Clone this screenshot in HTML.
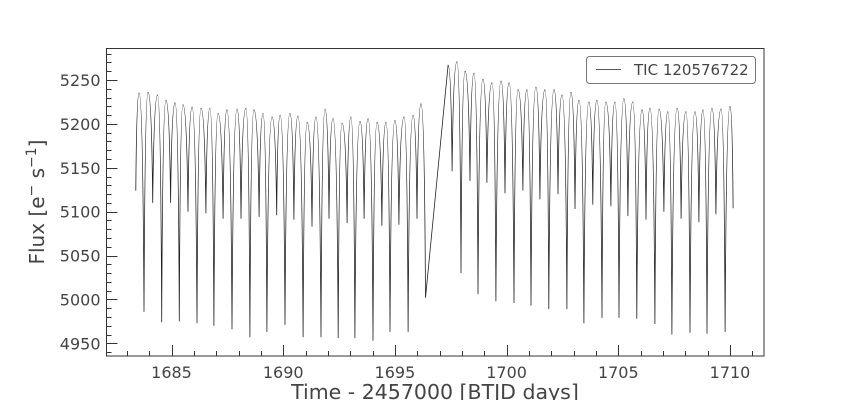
<!DOCTYPE html>
<html><head><meta charset="utf-8"><style>
body{margin:0;background:#fff;}
svg{display:block;font-family:"DejaVu Sans","Liberation Sans",sans-serif;}
</style></head><body>
<svg id="chart" width="848" height="400">
<rect x="0" y="0" width="848" height="400" fill="#fff"/>
<g id="ticks"></g>
<path id="curve" fill="none" stroke="#222" stroke-width="0.8"/>
<rect x="106.5" y="48.5" width="657.5" height="307.5" fill="none" stroke="#333" stroke-width="1"/>
<g>
<rect x="586.5" y="56.5" width="169" height="27" rx="3" fill="#fff" stroke="#777"/>
<line x1="596" y1="69.5" x2="621" y2="69.5" stroke="#222" stroke-width="0.8"/>
<text x="634" y="75" font-size="15" fill="#444">TIC 120576722</text>
</g>
<text transform="translate(44,202) rotate(-90)" text-anchor="middle" font-size="20" fill="#444">Flux [e<tspan font-size="14" dy="-8">−</tspan><tspan dy="8"> s</tspan><tspan font-size="14" dy="-8">−1</tspan><tspan dy="8">]</tspan></text>
<text x="435" y="399" text-anchor="middle" font-size="20.5" fill="#444">Time - 2457000 [BTJD days]</text>
</svg>
<script>
const times=[1683.40,1683.55,1683.77,1683.95,1684.16,1684.38,1684.56,1684.75,1684.96,1685.16,1685.35,1685.51,1685.74,1685.92,1686.14,1686.32,1686.54,1686.72,1686.90,1687.08,1687.31,1687.48,1687.71,1687.93,1688.11,1688.33,1688.51,1688.69,1688.92,1689.10,1689.27,1689.50,1689.71,1689.86,1690.08,1690.30,1690.48,1690.66,1690.89,1691.07,1691.29,1691.47,1691.69,1691.87,1692.05,1692.23,1692.46,1692.63,1692.86,1693.03,1693.21,1693.44,1693.62,1693.80,1694.02,1694.20,1694.42,1694.60,1694.78,1695.00,1695.18,1695.41,1695.59,1695.81,1695.99,1696.17,1696.37,1697.38,1697.56,1697.78,1697.96,1698.14,1698.36,1698.54,1698.72,1698.94,1699.12,1699.35,1699.52,1699.75,1699.93,1700.11,1700.33,1700.51,1700.73,1700.91,1701.09,1701.31,1701.49,1701.72,1701.89,1702.12,1702.30,1702.48,1702.70,1702.88,1703.06,1703.24,1703.46,1703.68,1703.86,1704.04,1704.27,1704.44,1704.67,1704.85,1705.03,1705.25,1705.43,1705.65,1705.83,1706.06,1706.24,1706.42,1706.64,1706.82,1707.04,1707.22,1707.40,1707.63,1707.81,1708.03,1708.21,1708.43,1708.61,1708.79,1708.97,1709.19,1709.37,1709.60,1709.78,1710.00,1710.14];
const flux=[5124,5235,4986,5236,5110,5233,4974,5227,5110,5224,4975,5222,5100,5219,4973,5218,5098,5218,4970,5212,5092,5216,4966,5217,5092,5218,4957,5216,5094,5212,4963,5208,5096,5210,4971,5212,5091,5209,4957,5202,5083,5208,4957,5217,5092,5206,4956,5201,5087,5208,4956,5203,5092,5206,4953,5202,5084,5202,4963,5204,5085,5208,4963,5210,5092,5223,5002,5267,5146,5271,5030,5260,5135,5258,5006,5251,5133,5247,4998,5249,5121,5247,4996,5239,5124,5239,4993,5242,5114,5239,4989,5239,5120,5233,4989,5236,5103,5227,4973,5225,5108,5227,4979,5225,5106,5225,4979,5229,5095,5225,4978,5216,5091,5218,4972,5217,5100,5214,4960,5218,5092,5214,4962,5214,5088,5216,4961,5218,5097,5217,4963,5220,5104];
const xTicks=[1685,1690,1695,1700,1705,1710];
const yTicks=[4950,5000,5050,5100,5150,5200,5250];
const NS='http://www.w3.org/2000/svg';
const X=t=>171.5+(t-1685)*22.34;
const Y=f=>80+(5250-f)*0.8778;
const L=106.5,B=356,T=48.5,R=764;
const tg=document.getElementById('ticks');
function line(x1,y1,x2,y2,name){const l=document.createElementNS(NS,'line');l.setAttribute('x1',x1);l.setAttribute('y1',y1);l.setAttribute('x2',x2);l.setAttribute('y2',y2);l.setAttribute('stroke','#333');l.setAttribute('stroke-width','1');


tg.appendChild(l);}
function text(x,y,s,anchor,name){const t=document.createElementNS(NS,'text');t.setAttribute('x',x);t.setAttribute('y',y);t.setAttribute('text-anchor',anchor);t.setAttribute('font-size','16');t.setAttribute('fill','#444');t.textContent=s;


tg.appendChild(t);}
for(let d=1683;d<=1711;d++){const x=Math.round(X(d))+0.5;if(x<L||x>R)continue;const major=xTicks.includes(d);line(x,B,x,B-(major?11:5),major?'x-major-tick':'x-minor-tick');}
xTicks.forEach(v=>text(X(v),B+22,String(v),'middle','x-tick-label'));
for(let f=4940;f<=5290;f+=10){const y=Math.round(Y(f))+0.5;if(y<T||y>B)continue;const major=yTicks.includes(f);line(L,y,L+(major?11:5),y,major?'y-major-tick':'y-minor-tick');}
yTicks.forEach(v=>text(L-6,Y(v)+6,String(v),'end','y-tick-label'));
let d='M'+X(times[0]).toFixed(1)+' '+Y(flux[0]).toFixed(1);
for(let i=1;i<times.length;i++){
 const x0=X(times[i-1]),y0=Y(flux[i-1]),x1=X(times[i]),y1=Y(flux[i]);
 if(times[i]-times[i-1]>0.5){d+=' L'+x1.toFixed(1)+' '+y1.toFixed(1);continue;}
 let cx,cy;
 if(y1>y0){cx=x0+(x1-x0)*0.75;cy=y0;}else{cx=x0+(x1-x0)*0.25;cy=y1;}
 d+=' Q'+cx.toFixed(1)+' '+cy.toFixed(1)+' '+x1.toFixed(1)+' '+y1.toFixed(1);
}
document.getElementById('curve').setAttribute('d',d);
</script>
</body></html>
